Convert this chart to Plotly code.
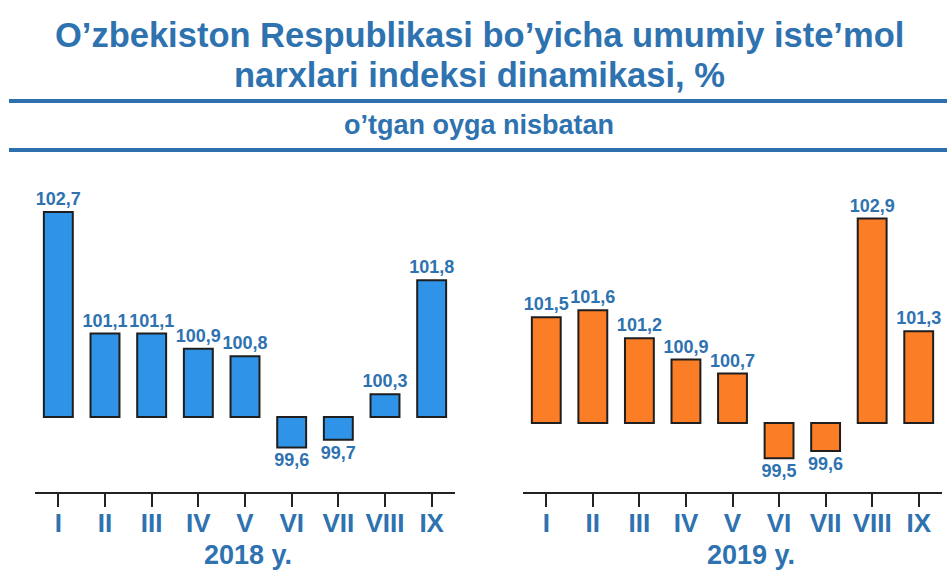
import plotly.graph_objects as go

months = ["I", "II", "III", "IV", "V", "VI", "VII", "VIII", "IX"]
cpi_2018 = [102.7, 101.1, 101.1, 100.9, 100.8, 99.6, 99.7, 100.3, 101.8]
cpi_2019 = [101.5, 101.6, 101.2, 100.9, 100.7, 99.5, 99.6, 102.9, 101.3]
base_level = 100
year_labels = ["2018 y.", "2019 y."]
title_line1 = "O’zbekiston Respublikasi bo’yicha umumiy iste’mol"
title_line2 = "narxlari indeksi dinamikasi, %"
subtitle = "o’tgan oyga nisbatan"

TXT = "#2E72B0"
FONT = "Liberation Sans, Arial, sans-serif"


def fmt(v):
    return f"{v:.1f}".replace(".", ",")


fig = go.Figure()

for vals, color, xa, ya in [
    (cpi_2018, "#2F93E8", "x", "y"),
    (cpi_2019, "#FB7D25", "x2", "y2"),
]:
    fig.add_trace(go.Bar(
        x=months,
        y=[v - base_level for v in vals],
        base=base_level,
        text=[fmt(v) for v in vals],
        textposition="outside",
        constraintext="none",
        cliponaxis=False,
        textfont=dict(family=FONT, size=18, color=TXT, weight="bold"),
        marker=dict(color=color, line=dict(color="#1E1E1E", width=2)),
        width=0.62,
        xaxis=xa,
        yaxis=ya,
        hoverinfo="skip",
        showlegend=False,
    ))

xcommon = dict(
    type="category",
    range=[-0.5, 8.5],
    showline=True, linecolor="#222222", linewidth=2,
    ticks="outside", ticklen=13, tickwidth=2, tickcolor="#222222",
    ticklabelstandoff=-6,
    tickfont=dict(family=FONT, size=26, color=TXT, weight="bold"),
    showgrid=False, zeroline=False, fixedrange=True,
)
ycommon = dict(visible=False, showgrid=False, zeroline=False, fixedrange=True)

W, H = 947, 571
top_px, bot_px = 190, 492
ydom = [1 - bot_px / H, 1 - top_px / H]

fig.update_layout(
    width=W, height=H,
    margin=dict(l=0, r=0, t=0, b=0),
    paper_bgcolor="white", plot_bgcolor="rgba(0,0,0,0)",
    bargap=0.38,
    xaxis=dict(xcommon, domain=[35 / W, 455 / W], anchor="y"),
    yaxis=dict(ycommon, domain=ydom, range=[99.013, 102.99]),
    xaxis2=dict(xcommon, domain=[523 / W, 942 / W], anchor="y2"),
    yaxis2=dict(ycommon, domain=ydom, range=[99.02, 103.305], anchor="x2"),
    font=dict(family=FONT, color=TXT),
    annotations=[
        dict(text=title_line1, x=479 / W, y=1 - 35 / H, xref="paper", yref="paper",
             showarrow=False, xanchor="center", yanchor="middle",
             font=dict(family=FONT, size=34.5, color=TXT, weight="bold")),
        dict(text=title_line2, x=480 / W, y=1 - 75 / H, xref="paper", yref="paper",
             showarrow=False, xanchor="center", yanchor="middle",
             font=dict(family=FONT, size=34.5, color=TXT, weight="bold")),
        dict(text=subtitle, x=479 / W, y=1 - 125 / H, xref="paper", yref="paper",
             showarrow=False, xanchor="center", yanchor="middle",
             font=dict(family=FONT, size=27, color=TXT, weight="bold")),
        dict(text=year_labels[0], x=248 / W, y=1 - 555 / H, xref="paper", yref="paper",
             showarrow=False, xanchor="center", yanchor="middle",
             font=dict(family=FONT, size=27, color=TXT, weight="bold")),
        dict(text=year_labels[1], x=751 / W, y=1 - 555 / H, xref="paper", yref="paper",
             showarrow=False, xanchor="center", yanchor="middle",
             font=dict(family=FONT, size=27, color=TXT, weight="bold")),
    ],
    shapes=[
        dict(type="line", xref="paper", yref="paper", x0=9 / W, x1=1, y0=1 - 101 / H, y1=1 - 101 / H,
             line=dict(color="#2E6FAD", width=4)),
        dict(type="line", xref="paper", yref="paper", x0=9 / W, x1=1, y0=1 - 150 / H, y1=1 - 150 / H,
             line=dict(color="#2E6FAD", width=4)),
    ],
)

fig.write_html("out.html",
               config={"displayModeBar": False},
               post_script="document.body.style.margin='0';document.body.style.overflow='hidden';")
